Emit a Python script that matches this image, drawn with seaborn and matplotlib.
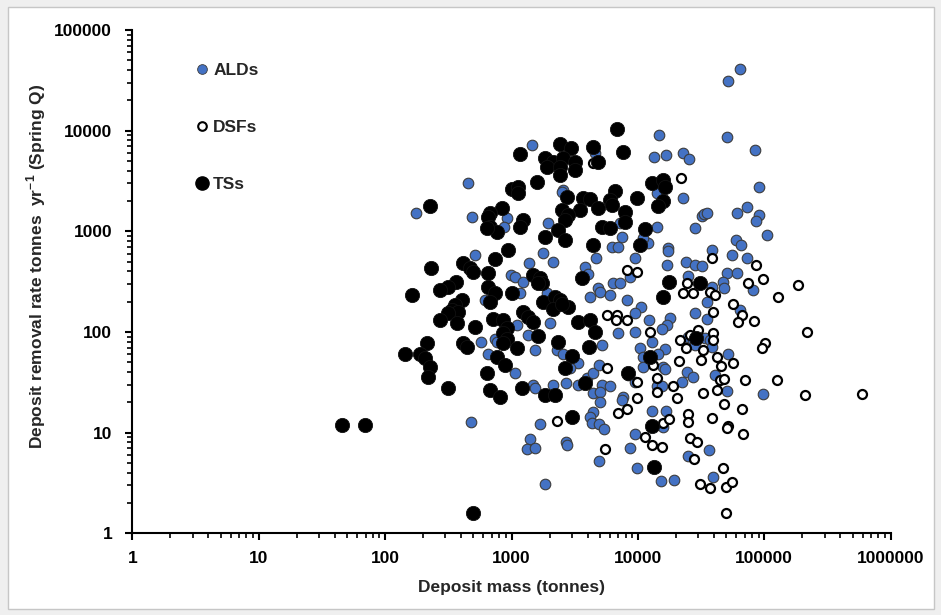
import numpy as np
import pandas as pd
import matplotlib
matplotlib.use("Agg")
import matplotlib.pyplot as plt
import seaborn as sns
from matplotlib.lines import Line2D
from matplotlib.patches import Rectangle
from matplotlib.ticker import LogLocator, FuncFormatter, NullFormatter

# ---------------- data ----------------
ALD_mass = [1445, 4580, 450, 2555, 2495, 175, 484, 916, 873, 1955, 7212, 7444, 6205, 6998,
            64220, 51870, 14770, 50900, 84350, 13490, 16680, 22640, 25240, 90750, 14090, 22640, 72550, 31970,
            33320, 35020, 61130, 91250, 85900, 28470, 14090, 104500, 59740, 65440, 12080, 11040, 17200, 38340,
            514, 1786, 2118, 1383, 991, 1067, 1240, 1167, 1898, 617, 3813, 4055, 4663, 4864, 5012, 4182, 6015,
            6388, 7212, 8150, 2016, 1099, 1358, 740, 764, 574, 1535, 655, 2278, 2570, 3376, 2901, 5172, 6998,
            1067, 1487, 1535, 2118, 2698, 3376, 3933, 4437, 4954, 5172, 6015, 4437, 5012, 7660, 8400,
            17400, 55200, 72550, 24050, 28300, 31970, 16890, 9490, 25060, 50900, 60510, 47400, 47980, 38340,
            81830, 35020, 10520, 9490, 17940, 16890, 15420, 12310, 28300, 35390, 64220, 9490, 12860, 10390,
            11040, 11040, 16380, 14500, 15880, 16380, 25060, 27440, 28300, 33960, 37170, 38340, 51870, 24340,
            27150, 22220, 40770, 50400, 98200, 9490, 14090, 15420, 8664,
            475, 1680, 1400, 1319, 1535, 2698, 2763, 1841, 5012, 4437, 4182, 4308, 4954, 5395, 4954, 8664, 7444,
            12860, 16680, 15880, 9490, 9777, 15140, 19300, 25060, 36710, 39050]
ALD_rate = [7180, 5940, 2990, 2566, 2467, 1527, 1374, 1343, 1109, 1214, 1197, 869, 702, 702,
            40550, 31030, 8960, 8670, 6400, 5420, 5755, 6020, 5180, 2767, 2411, 2123, 1751, 1416,
            1482, 1506, 1506, 1439, 1262, 1076, 1109, 910, 818, 729, 758, 850, 676, 650,
            580, 611, 498, 480, 367, 348, 315, 242, 245, 207, 444, 376, 538, 271, 251, 224, 232,
            304, 304, 207, 123, 117, 93, 86, 80, 80, 66, 61, 66, 61, 49, 44, 74, 98,
            39, 30, 28, 30, 31, 30, 35, 39, 47, 30, 29, 25, 25.5, 22.7, 37,
            640, 580, 538, 498, 461, 451, 461, 538, 359, 382, 387, 315, 271, 281,
            261, 200, 178, 155, 138, 117, 106, 131, 153, 136, 165, 100, 80, 69,
            57, 45, 67, 61, 45, 43, 90, 83, 74, 88, 83, 71, 61, 40,
            36, 32, 37, 26, 24, 32, 29, 29, 353,
            12.8, 12.2, 8.6, 6.8, 7.1, 8.0, 7.5, 3.07, 20.3, 16.1, 14.4, 12.4, 12.2, 10.8, 5.2, 7.0, 21.1,
            16.5, 16.4, 11.5, 9.8, 4.5, 3.3, 3.4, 5.8, 6.7, 3.6]

DSF_mass = [21820, 4437, 8150, 5665, 6795, 8150, 6708, 5665,
            38340, 85900, 9777, 24340, 22640, 27150, 37170, 40770, 74700, 98200,
            185700, 129100, 56230, 66250, 62260, 82800, 39510, 216600, 12470, 30080,
            25840, 39510, 39510, 21550, 24050, 101300, 95310, 32560, 31400, 42490,
            45180, 56230, 21270, 13250, 14090, 14090, 9777, 18850, 44600, 47980,
            42490, 32910, 70380, 125400, 209700, 589700, 20500, 9777,
            2278, 5493, 6998, 8150,
            47980, 66250, 15700, 17720, 25060, 25060, 38340, 51870, 50900, 68260,
            11380, 12860, 15420, 26000, 29520, 27950, 47400, 31000, 37170, 49770, 55200, 49770]
DSF_rate = [3350, 4720, 412, 147, 147, 133, 131, 44,
            538, 461, 396, 304, 245, 245, 251, 232, 304, 333,
            292, 224, 189, 147, 126, 128, 159, 100, 100, 104,
            93, 97, 83, 83, 70, 77, 69, 66, 53, 56,
            46, 49, 51, 47, 35, 25.5, 32, 29, 33, 34,
            26.5, 25, 33, 33, 23.6, 24, 21.9, 21.9,
            13.1, 6.8, 15.8, 17,
            19.2, 17, 12.5, 13.6, 15.3, 12.8, 13.9, 11.6, 11.0, 9.7,
            9.1, 7.5, 7.2, 8.8, 8.1, 5.5, 4.5, 3.1, 2.8, 2.9, 3.2, 1.58]

TS_mass = [2419, 2955, 4437, 6795, 7660, 4864, 1167, 1841, 2142, 2570, 3178, 1898, 2419, 3178, 2419, 1582,
           1004, 1132, 1132, 2733, 3698, 4182, 3482, 4864, 6590, 6015, 6205, 2495, 2813, 2650, 227, 836,
           676, 655, 676, 764, 637, 1240, 1167, 1841, 2345, 2650, 5172, 6015, 7905, 7905, 4437, 944,
           12860, 15700, 16380, 9777, 15880, 14500, 11380, 10390,
           230, 162, 416, 470, 493, 740, 655, 1487, 1680, 1733, 1629, 364, 316, 272, 655, 740, 676, 1004,
           403, 357, 336, 379, 316, 272, 368, 514, 718, 861, 916, 861, 1240, 1358, 1487, 1786, 2208, 2419,
           2142, 2813, 2495, 3591, 3376, 4182, 4580, 916, 861, 1629, 2345, 1099, 416, 442, 213, 189, 144,
           207, 227, 220, 764, 889, 637, 2993, 2650, 4127, 316, 676, 811, 1205, 1841, 2208, 3813, 8400,
           17720, 31000, 15700, 29000, 12470,
           45.6, 69, 3011, 499, 12860, 13420]
TS_rate = [7290, 6655, 6810, 10280, 6155, 4900, 5845, 5300, 4900, 5300, 4900, 4370, 4370, 4053, 3614, 3100,
           2606, 2728, 2377, 2202, 2123, 2075, 1623, 1688, 2525, 2042, 1820, 1623, 1449, 1292, 1779, 1688,
           1506, 1394, 1109, 988, 1069, 1292, 1109, 881, 1028, 818, 1109, 1069, 1562, 1242, 729, 650,
           3030, 3223, 2728, 2123, 2010, 1779, 1045, 729,
           428, 232, 480, 428, 396, 526, 382, 367, 340, 304, 304, 315, 281, 261, 281, 242, 200, 242,
           207, 185, 165, 159, 153, 131, 122, 113, 136, 131, 109, 97, 159, 142, 126, 200, 224, 207,
           171, 178, 189, 340, 126, 131, 100, 86, 77, 91, 80, 70, 77, 71, 77, 61, 60,
           55, 45, 36, 57, 47, 39, 58, 44, 71, 28, 26.5, 22.7, 28, 23.6, 23.6, 31, 39,
           315, 304, 224, 88, 57,
           11.9, 11.9, 14.2, 1.6, 11.6, 4.6]

series_names = ["ALDs", "DSFs", "TSs"]
x_label = "Deposit mass (tonnes)"
y_label = r"Deposit removal rate tonnes  yr$^{\mathbf{-1}}$ (Spring Q)"

# ---------------- style ----------------
sns.set_style("white")
plt.rcParams['font.family'] = ['Liberation Sans', 'DejaVu Sans']
plt.rcParams['font.weight'] = 'bold'
plt.rcParams['mathtext.fontset'] = 'custom'
plt.rcParams['mathtext.rm'] = 'Liberation Sans:bold'
plt.rcParams['mathtext.bf'] = 'Liberation Sans:bold'

W, H = 941, 615
fig = plt.figure(figsize=(W / 100, H / 100), dpi=100, facecolor='#efefef')
fig.patches.append(Rectangle((8 / W, 1 - 609 / H), (934 - 8) / W, (609 - 7) / H,
                             transform=fig.transFigure, facecolor='white',
                             edgecolor='#c6c6c6', lw=1.0, zorder=-5))

ax = fig.add_axes([132.3 / W, 1 - 533.3 / H, (890.7 - 132.3) / W, (533.3 - 30) / H])
ax.set_facecolor('none')

df_ald = pd.DataFrame({'mass': ALD_mass, 'rate': ALD_rate})
df_dsf = pd.DataFrame({'mass': DSF_mass, 'rate': DSF_rate})
df_ts = pd.DataFrame({'mass': TS_mass, 'rate': TS_rate})

sns.scatterplot(data=df_ald, x='mass', y='rate', ax=ax, s=58, color='#4472C4',
                edgecolor='#3c3c3c', linewidth=0.8, legend=False, zorder=3)
sns.scatterplot(data=df_dsf, x='mass', y='rate', ax=ax, s=42, color='white',
                edgecolor='black', linewidth=1.6, legend=False, zorder=4)
sns.scatterplot(data=df_ts, x='mass', y='rate', ax=ax, s=105, color='black',
                edgecolor='#111111', linewidth=0.6, legend=False, zorder=5)

ax.set_xscale('log')
ax.set_yscale('log')
ax.set_xlim(1, 1e6)
ax.set_ylim(1, 1e5)

fmt = FuncFormatter(lambda v, p: f"{int(round(v))}")
for axis in (ax.xaxis, ax.yaxis):
    axis.set_major_locator(LogLocator(base=10, numticks=12))
    axis.set_minor_locator(LogLocator(base=10, subs=np.arange(2, 10), numticks=100))
    axis.set_major_formatter(fmt)
    axis.set_minor_formatter(NullFormatter())

for side in ('top', 'right'):
    ax.spines[side].set_visible(False)
for side in ('left', 'bottom'):
    ax.spines[side].set_color('black')
    ax.spines[side].set_linewidth(1.5)

ax.tick_params(which='major', direction='out', length=5, width=1.5, colors='black',
               labelsize=12.5, left=True, bottom=True)
ax.tick_params(which='minor', direction='out', length=3.5, width=1.2, colors='black',
               left=True, bottom=True)
ax.tick_params(axis='x', which='major', pad=8)
ax.tick_params(axis='y', which='major', pad=9.5)
for lab in ax.get_xticklabels() + ax.get_yticklabels():
    lab.set_fontweight('bold')

ax.set_xlabel(x_label, fontsize=12.5, fontweight='bold')
ax.set_ylabel(y_label, fontsize=12.5, fontweight='bold')
ax.xaxis.set_label_coords(0.5, -0.093)
ax.yaxis.set_label_coords(-0.1115, 0.530)
ax.grid(False)

handles = [
    Line2D([], [], ls='none', marker='o', markersize=7, markerfacecolor='#4472C4',
           markeredgecolor='#3c3c3c', markeredgewidth=0.6),
    Line2D([], [], ls='none', marker='o', markersize=6.2, markerfacecolor='white',
           markeredgecolor='black', markeredgewidth=1.5),
    Line2D([], [], ls='none', marker='o', markersize=9.5, markerfacecolor='black',
           markeredgecolor='black'),
]
leg = ax.legend(handles, series_names, loc='upper left',
                bbox_to_anchor=(195 / W, 1 - 63 / H), bbox_transform=fig.transFigure,
                frameon=False, handlelength=0.8, handletextpad=0.25, labelspacing=2.4,
                borderpad=0, borderaxespad=0, prop={'size': 12.5, 'weight': 'bold'})

fig.savefig('out.png', dpi=100, facecolor=fig.get_facecolor())
